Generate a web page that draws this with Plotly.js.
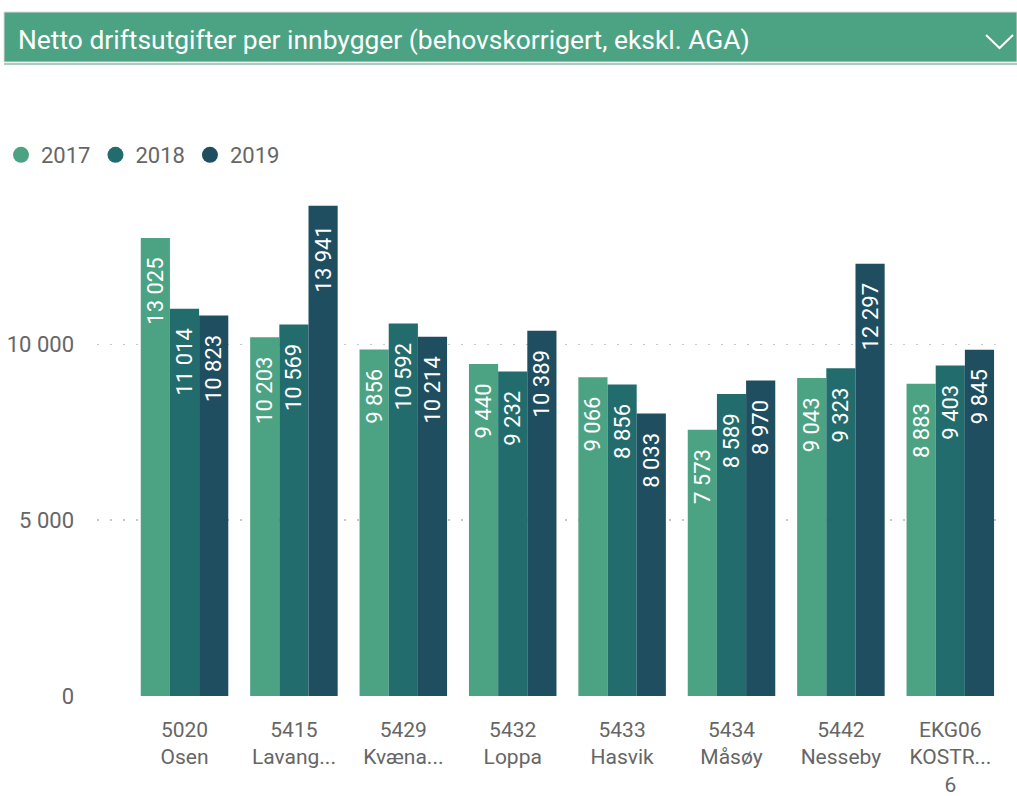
<!DOCTYPE html>
<html>
<head>
<meta charset="utf-8">
<script src="https://cdn.plot.ly/plotly-3.0.1.min.js"></script>
<style>html,body{margin:0;padding:0;background:#fff;}#chart{width:1017px;height:796px;}</style>
</head>
<body>
<div id="chart"></div>
<script>
const categories = ["5020<br>Osen", "5415<br>Lavang...", "5429<br>Kvæna...", "5432<br>Loppa", "5433<br>Hasvik", "5434<br>Måsøy", "5442<br>Nesseby", "EKG06<br>KOSTR...<br>6"];
const years = ["2017", "2018", "2019"];
const values2017 = [13025, 10203, 9856, 9440, 9066, 7573, 9043, 8883];
const values2018 = [11014, 10569, 10592, 9232, 8856, 8589, 9323, 9403];
const values2019 = [10823, 13941, 10214, 10389, 8033, 8970, 12297, 9845];
const colors = ["#4CA383", "#236C6E", "#1E4E5F"];
const titleText = "Netto driftsutgifter per innbygger (behovskorrigert, ekskl. AGA)";

const W = 1017, H = 796;
const M = {l: 0, r: 0, t: 170, b: 100, pad: 0};
const ph = H - M.t - M.b;
const px = x => x / W;
const py = y => (H - M.b - y) / ph;

const series = [values2017, values2018, values2019];
const traces = [];
series.forEach((vals, i) => {
  traces.push({
    type: "bar", x: categories, y: vals, name: years[i],
    marker: {color: colors[i]},
    texttemplate: "%{y:,.0f}\u00a0\u00a0\u00a0", textposition: "inside", insidetextanchor: "end",
    textangle: -90, constraintext: "none",
    textfont: {color: "#ffffff", size: 22, family: "Roboto"},
    showlegend: false, hoverinfo: "skip", cliponaxis: false
  });
});
series.forEach((vals, i) => {
  traces.push({
    type: "scatter", mode: "markers", x: [null], y: [null], name: years[i],
    marker: {color: colors[i], size: 22, symbol: "circle"}, showlegend: true
  });
});

const layout = {
  width: W, height: H,
  margin: M,
  paper_bgcolor: "#ffffff", plot_bgcolor: "rgba(0,0,0,0)",
  separators: ", ",
  font: {family: "Roboto", color: "#666666"},
  barmode: "group", bargap: 0.2, bargroupgap: 0,
  title: {text: titleText, x: 18 / W, xref: "container", xanchor: "left",
          y: 1 - 40 / H, yref: "container", yanchor: "middle", automargin: false,
          font: {color: "#ffffff", size: 26.4, family: "Roboto"}},
  xaxis: {type: "category", domain: [px(97), px(1005)], range: [-0.8, 7.5],
          showgrid: false, zeroline: false,
          showline: false, ticks: "", tickfont: {size: 21, color: "#666666"},
          ticklabelstandoff: 19, automargin: false, fixedrange: true},
  yaxis: {range: [0, 14960], tickvals: [0, 5000, 10000], tickformat: ",.0f",
          showgrid: true, gridcolor: "#c8c8c8", gridwidth: 1.5, griddash: "2px,11px",
          zeroline: false, showline: false, ticks: "", automargin: false,
          tickfont: {size: 22, color: "#666666"}, ticklabelstandoff: 22, fixedrange: true},
  legend: {orientation: "h", xref: "paper", yref: "paper",
           x: px(1), y: py(155), xanchor: "left", yanchor: "middle",
           font: {size: 22, color: "#666666"}, itemwidth: 30, tracegroupgap: 0,
           itemclick: false},
  shapes: [
    {type: "rect", xref: "paper", yref: "paper", x0: px(4), x1: px(1017), y0: py(62), y1: py(12),
     fillcolor: "#4CA383", line: {color: "#dcdcdc", width: 1}, layer: "below"},
    {type: "line", xref: "paper", yref: "paper", x0: px(4), x1: px(1017), y0: py(64), y1: py(64),
     line: {color: "#a9cdbf", width: 2}},
    {type: "path", xref: "paper", yref: "paper",
     path: `M ${px(986)} ${py(35)} L ${px(999.5)} ${py(48)} L ${px(1013)} ${py(35)}`,
     line: {color: "#ffffff", width: 2}}
  ]
};

Plotly.newPlot("chart", traces, layout, {displayModeBar: false, staticPlot: true});
</script>
</body>
</html>
